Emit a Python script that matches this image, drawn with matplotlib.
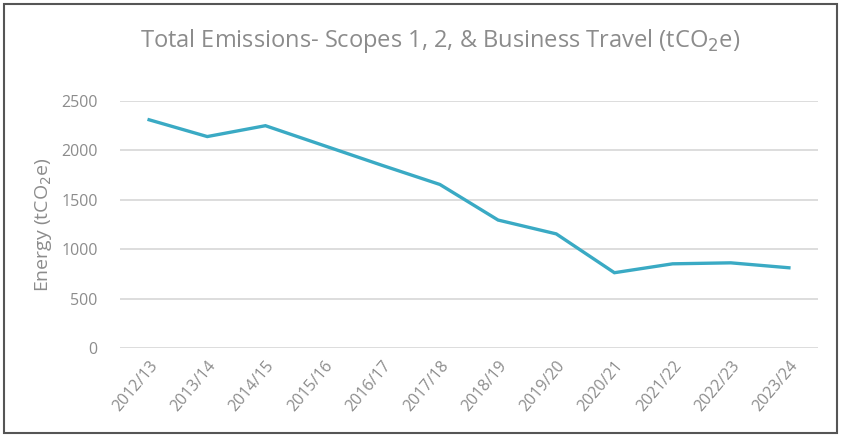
import matplotlib
matplotlib.use("Agg")
import matplotlib.pyplot as plt
from matplotlib.patches import Rectangle

years = ["2012/13", "2013/14", "2014/15", "2015/16", "2016/17", "2017/18",
         "2018/19", "2019/20", "2020/21", "2021/22", "2022/23", "2023/24"]
emissions = [2310, 2140, 2250, 2050, 1850, 1655, 1295, 1155, 762, 852, 862, 812]
yticks = [0, 500, 1000, 1500, 2000, 2500]

plt.rcParams['font.family'] = ['Open Sans', 'DejaVu Sans']
gray = '#8c8c8c'

fig = plt.figure(figsize=(8.41, 4.37), dpi=100)
ax = fig.add_axes([120/841, 1-348/437, (818-120)/841, (348-101)/437])

x = list(range(len(years)))
ax.plot(x, emissions, color='#3aaac4', linewidth=2.4, solid_joinstyle='miter')

ax.set_xlim(-0.5, len(years) - 0.5)
ax.set_ylim(0, 2500)
ax.set_yticks(yticks)
ax.set_yticklabels([str(v) for v in yticks], fontsize=11.5, color=gray)
ax.set_xticks(x)
ax.set_xticklabels(years, rotation=50, ha='right', rotation_mode='anchor',
                   fontsize=11.5, color=gray)
ax.tick_params(axis='both', length=0)
ax.tick_params(axis='y', pad=16)
ax.tick_params(axis='x', pad=7)
ax.grid(axis='y', color='#dadada', linewidth=1.3)
ax.set_axisbelow(True)
for s in ax.spines.values():
    s.set_visible(False)

ax.set_ylabel('Energy (tCO$_2$e)', fontsize=14, color=gray, labelpad=5)
fig.text(440/841, 1-41/437, 'Total Emissions- Scopes 1, 2, & Business Travel (tCO$_2$e)',
         ha='center', va='center', fontsize=17, color=gray)

fig.patches.append(Rectangle((4/841, 4/437), 833/841, 429/437, transform=fig.transFigure,
                             fill=False, edgecolor='#555555', linewidth=1.5))

fig.savefig('out.png', dpi=100)
